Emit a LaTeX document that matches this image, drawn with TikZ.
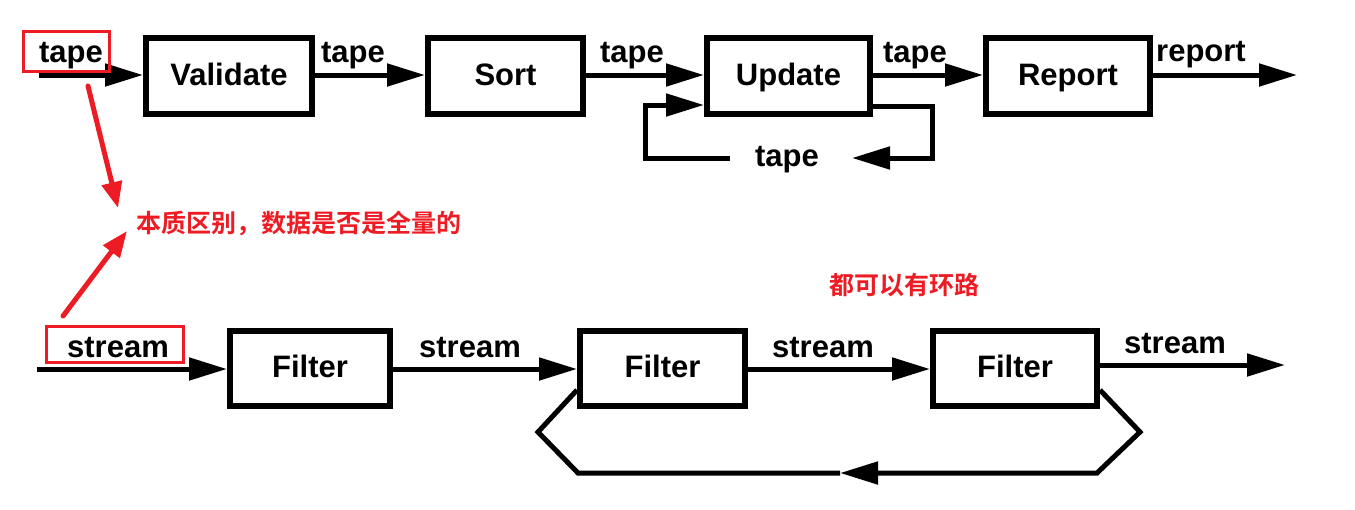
\documentclass[tikz,border=0pt]{standalone}
\usepackage{fontspec}
\setmainfont{Liberation Sans}
\newfontfamily\cjk{Noto Sans CJK SC}[BoldFont={Noto Sans CJK SC Bold}]
\usetikzlibrary{arrows.meta}
\definecolor{mark}{RGB}{237,28,36}
\tikzset{
  proc/.style={draw, line width=6pt, minimum height=76pt, inner sep=0pt, text height=22pt, text depth=4pt, font=\bfseries\fontsize{31}{31}\selectfont},
  lbl/.style={inner sep=0pt, anchor=base, font=\bfseries\fontsize{31}{31}\selectfont},
  wire/.style={line width=5pt},
  flow/.style={wire, -{Triangle[length=38pt 0, width=22pt 0]}},
  redbox/.style={draw=mark, line width=3pt, inner sep=0pt},
  redarrow/.style={draw=mark, line width=5pt, line cap=round, -{Triangle[length=26pt 0, width=20pt 0]}},
  note/.style={text=mark, inner sep=0pt, font=\cjk\bfseries\fontsize{25}{25}\selectfont}
}
\begin{document}
\begin{tikzpicture}[x=1pt, y=-1pt]
\useasboundingbox (0,0) rectangle (1355,509);
% ---- top row
\node[proc, minimum width=166pt] (val) at (229,76) {Validate};
\node[proc, minimum width=155pt] (sort) at (505.5,76) {Sort};
\node[proc, minimum width=163pt] (upd) at (788.5,76) {Update};
\node[proc, minimum width=164pt] (rep) at (1068,76) {Report};
\coordinate (tin) at (39,75);
\coordinate (tout) at (1297,75);
\draw[flow] (tin) -- (val.west |- tin);
\draw[flow] (val.east |- tin) -- (sort.west |- tin);
\draw[flow] (sort.east |- tin) -- (upd.west |- tin);
\draw[flow] (upd.east |- tin) -- (rep.west |- tin);
\draw[flow] (rep.east |- tin) -- (tout);
\node[lbl] (t0) at (71,62) {tape};
\node[lbl] (t1) at (353,62) {tape};
\node[lbl] (t2) at (632,62) {tape};
\node[lbl] (t3) at (915,62) {tape};
\node[lbl] (r0) at (1201,61) {report};
% update loop
\node[lbl] (tl) at (787,166) {tape};
\coordinate (lr) at (932,106);
\coordinate (lb) at (852,158);
\coordinate (ll) at (730,158);
\coordinate (lc) at (645,158);
\coordinate (lu) at (645,105);
\draw[flow] (upd.east |- lr) -- (lr) |- (lb);
\draw[flow] (ll) -- (lc) -- (lu) -- (upd.west |- lu);
% ---- bottom row
\node[proc, minimum width=160pt, minimum height=75pt] (f1) at (310,368) {Filter};
\node[proc, minimum width=165pt, minimum height=75pt] (f2) at (662.5,368) {Filter};
\node[proc, minimum width=164pt, minimum height=75pt] (f3) at (1015,368) {Filter};
\coordinate (sin) at (37,369);
\coordinate (sout) at (1285,365);
\draw[flow] (sin) -- (f1.west |- sin);
\draw[flow] (f1.east |- sin) -- (f2.west |- sin);
\draw[flow] (f2.east |- sin) -- (f3.west |- sin);
\draw[flow] (f3.east |- sout) -- (sout);
\node[lbl] (s0) at (118,357) {stream};
\node[lbl] (s1) at (470,357) {stream};
\node[lbl] (s2) at (823,357) {stream};
\node[lbl] (s3) at (1175,353) {stream};
% filter loop
\coordinate (bl) at (538,432);
\coordinate (bbl) at (578,473);
\coordinate (bm) at (840,473);
\coordinate (bbr) at (1097,473);
\coordinate (br) at (1140,432);
\coordinate (ey) at (0,390);
\draw[flow, line join=miter] (f3.east |- ey) -- (br) -- (bbr) -- (bm);
\draw[wire, line join=miter] (bm) -- (bbl) -- (bl) -- (f2.west |- ey);
% ---- annotations
\node[redbox, minimum width=86pt, minimum height=40pt] (tbox) at (66.5,51.5) {};
\node[redbox, minimum width=137pt, minimum height=36pt] (sbox) at (115,344.5) {};
\coordinate (a1s) at (88,86);
\coordinate (a1e) at (118,208);
\coordinate (a2s) at (63,316);
\coordinate (a2e) at (127,231);
\draw[redarrow] (a1s) -- (a1e);
\draw[redarrow] (a2s) -- (a2e);
\node[note, anchor=west] (n1) at (136,223) {本质区别，数据是否是全量的};
\node[note] (n2) at (904,285) {都可以有环路};
\end{tikzpicture}
\end{document}
